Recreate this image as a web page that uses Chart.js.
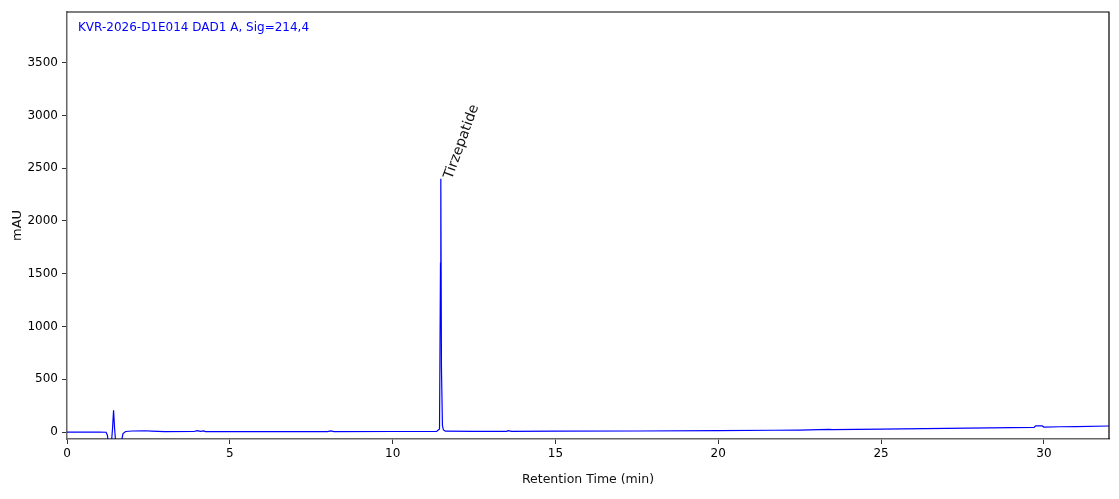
<!DOCTYPE html>
<html>
<head>
<meta charset="utf-8">
<script src="https://cdn.jsdelivr.net/npm/chart.js@4.4.1/dist/chart.umd.min.js"></script>
<style>
  html, body { margin: 0; padding: 0; background: #fff; }
  #wrap { width: 1119px; height: 499px; position: relative; }
</style>
</head>
<body>
<div id="wrap"><canvas id="chrom"></canvas></div>
<script>
// retention time (min) and signal (mAU)
const times = [0, 1.0, 1.2, 1.24, 1.28, 1.36, 1.40, 1.43, 1.46, 1.50, 1.65, 1.72, 1.8, 2.0, 2.4, 2.6, 3.0,
  3.9, 4.0, 4.1, 4.2, 4.25, 5.0, 8.0, 8.1, 8.2, 10.0, 11.35, 11.44, 11.47, 11.48, 11.50,
  11.53, 11.56, 11.62, 12.5, 13.5, 13.55, 13.65, 15.0, 17.5, 20.0, 21.7, 22.5, 23.4,
  23.5, 25.0, 27.0, 29.0, 29.7, 29.75, 29.95, 30.0, 30.5, 31.0, 32.0];
const signal = [0, 0, -2, -30, -120, -120, 40, 205, 40, -120, -120, -15, 5, 10, 12, 9, 4,
  5, 14, 6, 10, 4, 4, 4, 11, 4, 5, 6, 30, 1600, 2400, 600,
  60, 20, 8, 6, 6, 13, 6, 8, 10, 13, 17, 19, 25,
  22, 28, 34, 41, 45, 58, 58, 47, 50, 52, 57];

const xTicks = [0, 5, 10, 15, 20, 25, 30];
const yTicks = [0, 500, 1000, 1500, 2000, 2500, 3000, 3500];

const peakNames = ['Tirzepatide'];
const peakTimes = [11.48];
const peakHeights = [2400];

const traceTitle = 'KVR-2026-D1E014 DAD1 A, Sig=214,4';

const fontFamily = '"DejaVu Sans", sans-serif';

// top/right black frame, title text and peak labels
const framePlugin = {
  id: 'frame',
  afterDraw(chart) {
    const { ctx, chartArea: a, scales } = chart;
    ctx.save();
    ctx.strokeStyle = '#000';
    ctx.lineWidth = 1.2;
    ctx.beginPath();
    ctx.moveTo(a.left, a.top);
    ctx.lineTo(a.right, a.top);
    ctx.lineTo(a.right, a.bottom);
    ctx.stroke();

    ctx.fillStyle = '#0000ff';
    ctx.font = '12px ' + fontFamily;
    ctx.textBaseline = 'middle';
    ctx.fillText(traceTitle, a.left + 11, a.top + 16);

    ctx.fillStyle = '#111';
    ctx.font = '14px ' + fontFamily;
    ctx.textBaseline = 'alphabetic';
    peakNames.forEach((name, i) => {
      const px = scales.x.getPixelForValue(peakTimes[i]);
      const py = scales.y.getPixelForValue(peakHeights[i]);
      ctx.save();
      ctx.translate(px + 11, py + 1);
      ctx.rotate(-70 * Math.PI / 180);
      ctx.fillText(name, 0, 0);
      ctx.restore();
    });
    ctx.restore();
  }
};

new Chart(document.getElementById('chrom'), {
  type: 'line',
  data: {
    datasets: [{
      data: times.map((t, i) => ({ x: t, y: signal[i] })),
      borderColor: '#0000ff',
      borderWidth: 1.2,
      pointRadius: 0,
      tension: 0,
      fill: false
    }]
  },
  options: {
    responsive: true,
    maintainAspectRatio: false,
    animation: false,
    layout: { padding: { top: 12, right: 10, left: 0, bottom: 12 } },
    plugins: { legend: { display: false }, tooltip: { enabled: false } },
    scales: {
      x: {
        type: 'linear',
        min: 0,
        max: 32,
        afterBuildTicks: axis => { axis.ticks = xTicks.map(v => ({ value: v })); },
        afterFit: axis => { axis.height = 48; },
        border: { display: true, color: '#666', width: 1.5 },
        grid: { display: true, drawOnChartArea: false, drawTicks: true, tickLength: 5, color: '#333' },
        ticks: { color: '#000', font: { family: fontFamily, size: 12 }, padding: 3, maxRotation: 0,
          callback: v => String(v) },
        title: { display: true, text: 'Retention Time (min)', color: '#111',
          font: { family: fontFamily, size: 12.5 }, padding: { top: 6, bottom: 0 } }
      },
      y: {
        min: -66,
        max: 3980,
        afterBuildTicks: axis => { axis.ticks = yTicks.map(v => ({ value: v })); },
        afterFit: axis => { axis.width = 67; },
        border: { display: true, color: '#666', width: 1.5 },
        grid: { display: true, drawOnChartArea: false, drawTicks: true, tickLength: 5, color: '#333' },
        ticks: { color: '#000', font: { family: fontFamily, size: 12 }, padding: 4,
          callback: v => String(v) },
        title: { display: true, text: 'mAU', color: '#111',
          font: { family: fontFamily, size: 13 }, padding: { top: 10, bottom: 0 } }
      }
    }
  },
  plugins: [framePlugin]
});
</script>
</body>
</html>
